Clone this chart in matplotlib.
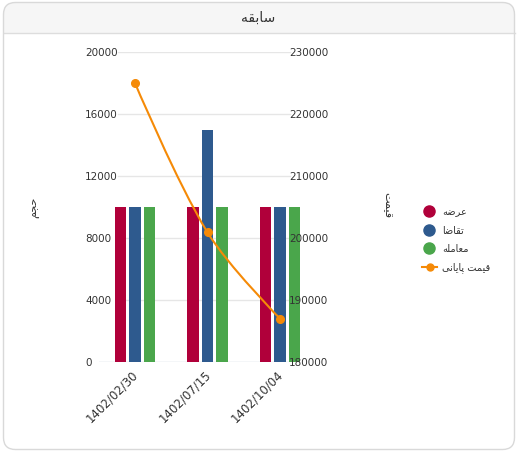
import matplotlib
matplotlib.use("Agg")
import matplotlib.pyplot as plt
import matplotlib.transforms as mtransforms
from matplotlib.patches import FancyBboxPatch, Rectangle, PathPatch
from matplotlib.path import Path
from matplotlib.lines import Line2D
import numpy as np

# ---------------- data ----------------
categories = ["1402/02/30", "1402/07/15", "1402/10/04"]
supply = [10000, 10000, 10000]      # عرضه
demand = [10000, 15000, 10000]      # تقاضا
trade = [10000, 10000, 10000]       # معامله
close_price = [225000, 200900, 187000]  # قیمت پایانی
left_ticks = [0, 4000, 8000, 12000, 16000, 20000]
right_ticks = [180000, 190000, 200000, 210000, 220000, 230000]

# Persian labels (pre-shaped, visual order, Arabic presentation forms)
title_txt = "\uFEEA\uFED8\uFE91\uFE8E\uFEB3"          # سابقه
ylabel_left = "\uFEE2\uFEA0\uFEA3"                    # حجم
ylabel_right = "\uFE96\uFEE4\uFEF4\uFED7"             # قیمت
series_names = [
    "\uFEEA\uFEBF\uFEAE\uFECB",                       # عرضه
    "\uFE8E\uFEBF\uFE8E\uFED8\uFE97",                 # تقاضا
    "\uFEEA\uFEE0\uFEE3\uFE8E\uFECC\uFEE3",           # معامله
    "\uFEF0\uFEE7\uFE8E\uFEF3\uFE8E\uFB58 \uFE96\uFEE4\uFEF4\uFED7",  # قیمت پایانی
]
colors = ["#b0003a", "#2e5a8e", "#4aa64b", "#f58a07"]

W, H = 518, 456
fig = plt.figure(figsize=(W / 100, H / 100), dpi=100)
fig.patch.set_facecolor("white")

def fx(x):
    return x / W

def fy(y):
    return 1 - y / H

# ---------------- card ----------------
card_bg = FancyBboxPatch((3.5, H - 450.5), 511, 447, boxstyle="round,pad=0,rounding_size=12",
                         transform=None, facecolor="white", edgecolor="none", zorder=0)
fig.add_artist(card_bg)
header = FancyBboxPatch((3.5, H - 34), 511, 30.5, boxstyle="round,pad=0,rounding_size=12",
                        transform=None, facecolor="#f6f6f6", edgecolor="none", zorder=0.1)
fig.add_artist(header)
header_sq = Rectangle((3.5, H - 34), 511, 14, transform=None, facecolor="#f6f6f6",
                      edgecolor="none", zorder=0.1)
fig.add_artist(header_sq)
fig.add_artist(Line2D([3.5, 514.5], [H - 34, H - 34], transform=None, color="#dddddd", lw=1, zorder=0.2))
card_edge = FancyBboxPatch((3.5, H - 450.5), 511, 447, boxstyle="round,pad=0,rounding_size=12",
                           transform=None, facecolor="none", edgecolor="#d9d9d9", lw=1, zorder=0.3)
fig.add_artist(card_edge)
fig.text(fx(258), fy(18), title_txt, ha="center", va="center", fontsize=10,
         color="#333333", family="DejaVu Sans")

# ---------------- axes ----------------
x_left, x_right = 98.75, 316.25
y_top, y_bot = 53, 363
ax = fig.add_axes([fx(x_left), 1 - y_bot / H, (x_right - x_left) / W, (y_bot - y_top) / H])
ax.set_facecolor("none")
ax.set_xlim(-0.5, 2.5)
ax.set_ylim(left_ticks[0], left_ticks[-1])
for s in ax.spines.values():
    s.set_visible(False)
ax.set_xticks([])
ax.set_yticks([])

grid_x0 = (118 - x_left) / (x_right - x_left)
grid_x1 = (290 - x_left) / (x_right - x_left)
for t in left_ticks[1:]:
    ax.axhline(t, xmin=grid_x0, xmax=grid_x1, color="#e6e6e6", lw=1, zorder=0)
ax.axhline(0, xmin=0, xmax=grid_x1, color="#c9d2de", lw=1, zorder=0.5)

x = np.arange(len(categories))
bw = 0.152
off = 0.2
ax.bar(x - off, supply, width=bw, color=colors[0], zorder=2)
ax.bar(x, demand, width=bw, color=colors[1], zorder=2)
ax.bar(x + off, trade, width=bw, color=colors[2], zorder=2)

ax2 = ax.twinx()
ax2.set_ylim(right_ticks[0], right_ticks[-1])
ax2.set_xlim(-0.5, 2.5)
for s in ax2.spines.values():
    s.set_visible(False)
ax2.set_yticks([])
ax2.set_facecolor("none")

# smooth line (bezier, computed in display space)
pts = ax2.transData.transform(np.column_stack([x, close_price]))
smooth = 0.35
n = len(pts)
cps_in, cps_out = [None] * n, [None] * n
for i in range(n):
    if i == 0 or i == n - 1:
        cps_in[i] = pts[i]
        cps_out[i] = pts[i]
        continue
    v = (pts[i + 1] - pts[i - 1]) * smooth
    d0 = np.hypot(*(pts[i] - pts[i - 1]))
    d1 = np.hypot(*(pts[i + 1] - pts[i]))
    ssum = d0 + d1
    d0, d1 = d0 / ssum, d1 / ssum
    cps_in[i] = pts[i] - v * d0
    cps_out[i] = pts[i] + v * d1
verts = [pts[0]]
codes = [Path.MOVETO]
for i in range(n - 1):
    verts += [cps_out[i], cps_in[i + 1], pts[i + 1]]
    codes += [Path.CURVE4] * 3
inv = ax2.transData.inverted()
verts_d = inv.transform(np.array(verts))
ax2.add_patch(PathPatch(Path(verts_d, codes), facecolor="none", edgecolor=colors[3],
                        lw=1.5, zorder=3, transform=ax2.transData))
ax2.plot(x, close_price, linestyle="none", marker="o", markersize=5.5, color=colors[3], zorder=4)

# tick labels
tl = mtransforms.blended_transform_factory(fig.transFigure, ax.transData)
for t in left_ticks:
    fig.text(fx(85), t, f"{t}", transform=tl, ha="left", va="center", fontsize=7.5, color="#333333")
tr = mtransforms.blended_transform_factory(fig.transFigure, ax2.transData)
for t in right_ticks:
    ax2.text(fx(289), t, f"{t}", transform=tr, ha="left", va="center", fontsize=7.5,
             color="#333333", zorder=5)

tx = mtransforms.blended_transform_factory(ax.transData, fig.transFigure)
for i, c in enumerate(categories):
    fig.text(x[i] - 0.05, fy(368), c, transform=tx, rotation=45, rotation_mode="anchor",
             ha="right", va="top", fontsize=8.5, color="#333333")

fig.text(fx(35), fy(207), ylabel_left, rotation=90, ha="center", va="center", fontsize=8,
         color="#333333", family="DejaVu Sans")
fig.text(fx(387), fy(205), ylabel_right, rotation=-90, ha="center", va="center", fontsize=8,
         color="#333333", family="DejaVu Sans")

# ---------------- legend ----------------
leg_y = [212, 230.5, 249, 267.5]
for i in range(3):
    fig.add_artist(Line2D([fx(429)], [fy(leg_y[i])], transform=fig.transFigure, marker="o",
                          markersize=8, color=colors[i], linestyle="none"))
fig.add_artist(Line2D([fx(422), fx(437)], [fy(leg_y[3]), fy(leg_y[3])], transform=fig.transFigure,
                      color=colors[3], lw=1.5, marker=None))
fig.add_artist(Line2D([fx(429.5)], [fy(leg_y[3])], transform=fig.transFigure, marker="o",
                      markersize=5, color=colors[3], linestyle="none"))
for i in range(4):
    fig.text(fx(442), fy(leg_y[i]), series_names[i], ha="left", va="center", fontsize=7,
             color="#333333", family="DejaVu Sans")

fig.savefig("out.png", dpi=100)
